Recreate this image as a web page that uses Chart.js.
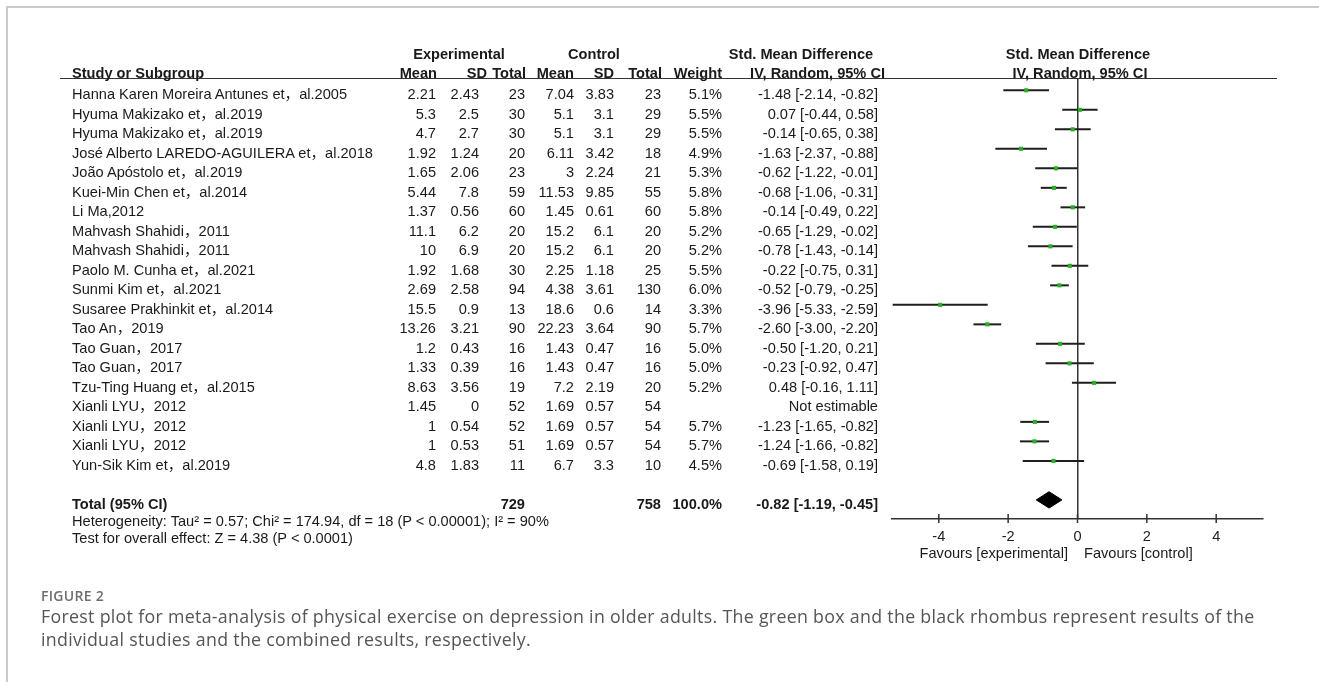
<!DOCTYPE html>
<html>
<head>
<meta charset="utf-8">
<script src="https://cdn.jsdelivr.net/npm/chart.js@4.4.1/dist/chart.umd.min.js"></script>
<style>
body { margin: 0; background: #fff; }
#wrap { position: relative; width: 1319px; height: 682px; overflow: hidden; font-family: "Liberation Sans", Arial, "Noto Sans CJK SC", sans-serif; color: #1a1a1a; }
#frame { position: absolute; left: 6px; top: 6px; width: 1400px; height: 674px; border-top: 2px solid #cbcbcb; border-left: 2px solid #cbcbcb; }
#forest { position: absolute; left: 0; top: 0; }
.t { position: absolute; font-size: 14.6px; line-height: 18px; white-space: nowrap; }
.b { font-weight: bold; }
#hline { position: absolute; left: 60px; width: 1217px; top: 78px; height: 0; border-top: 1.5px solid #333; }
#figno { position: absolute; left: 41px; top: 586px; font-family: "Open Sans", sans-serif; font-weight: 600; font-size: 14px; color: #6e6e6e; letter-spacing: 0.3px; }
#caption { position: absolute; left: 41px; top: 605px; font-family: "Open Sans", sans-serif; font-size: 17.8px; line-height: 23px; letter-spacing: 0.3px; color: #555; white-space: nowrap; }
</style>
</head>
<body>
<div id="wrap">
  <div id="frame"></div>
  <canvas id="forest" width="1319" height="682"></canvas>
  <div id="hline"></div>
  <div id="figno">FIGURE 2</div>
  <div id="caption">Forest plot for meta-analysis of physical exercise on depression in older adults. The green box and the black rhombus represent results of the<br>individual studies and the combined results, respectively.</div>
</div>
<script>
// studies, top to bottom
const studies = [
    'Hanna Karen Moreira Antunes et，al.2005',
    'Hyuma Makizako et，al.2019',
    'Hyuma Makizako et，al.2019',
    'José Alberto LAREDO-AGUILERA et，al.2018',
    'João Apóstolo et，al.2019',
    'Kuei-Min Chen et，al.2014',
    'Li Ma,2012',
    'Mahvash Shahidi，2011',
    'Mahvash Shahidi，2011',
    'Paolo M. Cunha et，al.2021',
    'Sunmi Kim et，al.2021',
    'Susaree Prakhinkit et，al.2014',
    'Tao An，2019',
    'Tao Guan，2017',
    'Tao Guan，2017',
    'Tzu-Ting Huang et，al.2015',
    'Xianli LYU，2012',
    'Xianli LYU，2012',
    'Xianli LYU，2012',
    'Yun-Sik Kim et，al.2019'
];
const expMean = [2.21, 5.3, 4.7, 1.92, 1.65, 5.44, 1.37, 11.1, 10, 1.92, 2.69, 15.5, 13.26, 1.2, 1.33, 8.63, 1.45, 1, 1, 4.8];
const expSD   = [2.43, 2.5, 2.7, 1.24, 2.06, 7.8, 0.56, 6.2, 6.9, 1.68, 2.58, 0.9, 3.21, 0.43, 0.39, 3.56, 0, 0.54, 0.53, 1.83];
const expN    = [23, 30, 30, 20, 23, 59, 60, 20, 20, 30, 94, 13, 90, 16, 16, 19, 52, 52, 51, 11];
const ctlMean = [7.04, 5.1, 5.1, 6.11, 3, 11.53, 1.45, 15.2, 15.2, 2.25, 4.38, 18.6, 22.23, 1.43, 1.43, 7.2, 1.69, 1.69, 1.69, 6.7];
const ctlSD   = [3.83, 3.1, 3.1, 3.42, 2.24, 9.85, 0.61, 6.1, 6.1, 1.18, 3.61, 0.6, 3.64, 0.47, 0.47, 2.19, 0.57, 0.57, 0.57, 3.3];
const ctlN    = [23, 29, 29, 18, 21, 55, 60, 20, 20, 25, 130, 14, 90, 16, 16, 20, 54, 54, 54, 10];
const weight  = [5.1, 5.5, 5.5, 4.9, 5.3, 5.8, 5.8, 5.2, 5.2, 5.5, 6.0, 3.3, 5.7, 5.0, 5.0, 5.2, null, 5.7, 5.7, 4.5];
const smd     = [-1.48, 0.07, -0.14, -1.63, -0.62, -0.68, -0.14, -0.65, -0.78, -0.22, -0.52, -3.96, -2.60, -0.50, -0.23, 0.48, null, -1.23, -1.24, -0.69];
const ciLow   = [-2.14, -0.44, -0.65, -2.37, -1.22, -1.06, -0.49, -1.29, -1.43, -0.75, -0.79, -5.33, -3.00, -1.20, -0.92, -0.16, null, -1.65, -1.66, -1.58];
const ciHigh  = [-0.82, 0.58, 0.38, -0.88, -0.01, -0.31, 0.22, -0.02, -0.14, 0.31, -0.25, -2.59, -2.20, 0.21, 0.47, 1.11, null, -0.82, -0.82, 0.19];

// pooled result
const totalExpN = 729;
const totalCtlN = 758;
const totalWeight = 100.0;
const totalSmd = -0.82;
const totalLow = -1.19;
const totalHigh = -0.45;

const tickValues = [-4, -2, 0, 2, 4];

const totalRow = studies.length + 1;
const DIAMOND_HALF = 0.42;
const TEXT_SHIFT = 4;

var datasets = [];

// green boxes
var boxes = [];
smd.forEach(function(v, i) {
    if (v !== null) boxes.push({x: v, y: i});
});
datasets.push({
    type: 'scatter',
    data: boxes,
    pointStyle: 'rect',
    pointRadius: 2.9,
    backgroundColor: '#1fb51f',
    borderWidth: 0,
    order: 0
});

// confidence intervals
smd.forEach(function(v, i) {
    if (v === null) return;
    datasets.push({
        type: 'line',
        data: [{x: ciLow[i], y: i}, {x: ciHigh[i], y: i}],
        borderColor: '#1e1e1e',
        borderWidth: 2,
        pointRadius: 0,
        fill: false,
        order: 1
    });
});

// pooled diamond
datasets.push({
    type: 'line',
    data: [
        {x: totalLow, y: totalRow},
        {x: totalSmd, y: totalRow - DIAMOND_HALF},
        {x: totalHigh, y: totalRow},
        {x: totalSmd, y: totalRow + DIAMOND_HALF},
        {x: totalLow, y: totalRow}
    ],
    borderColor: '#000',
    borderWidth: 1,
    backgroundColor: '#000',
    pointRadius: 0,
    fill: 'shape',
    order: 0
});

const tickMarks = {
    id: 'tickMarks',
    afterDraw: function(chart) {
        var ctx = chart.ctx, xs = chart.scales.x, yb = chart.chartArea.bottom;
        ctx.save();
        ctx.strokeStyle = '#333';
        ctx.lineWidth = 1.5;
        tickValues.forEach(function(v) {
            var px = xs.getPixelForValue(v);
            ctx.beginPath();
            ctx.moveTo(px, yb - 5);
            ctx.lineTo(px, yb + 4);
            ctx.stroke();
        });
        ctx.restore();
    }
};

var chart = new Chart(document.getElementById('forest').getContext('2d'), {
    type: 'scatter',
    data: {datasets: datasets},
    options: {
        responsive: false,
        animation: false,
        layout: {padding: {left: 892, right: 56, top: 79, bottom: 123}},
        plugins: {legend: {display: false}, tooltip: {enabled: false}},
        scales: {
            x: {
                type: 'linear',
                min: -5.35,
                max: 5.35,
                afterBuildTicks: function(ax) { ax.ticks = tickValues.map(function(v) { return {value: v}; }); },
                afterFit: function(ax) { ax.height = 40; },
                grid: {
                    drawTicks: false,
                    lineWidth: 1.5,
                    color: function(c) { return c.tick && c.tick.value === 0 ? '#333' : 'rgba(0,0,0,0)'; }
                },
                border: {display: true, color: '#333', width: 1.5},
                ticks: {padding: 9, color: '#222', font: {family: 'Liberation Sans', size: 14.6}}
            },
            y: {type: 'linear', display: false, reverse: true, min: -0.58, max: 21.98}
        }
    },
    plugins: [tickMarks]
});

// table text, rows placed through the chart's y scale
var wrap = document.getElementById('wrap');
function put(text, x, yc, align, bold) {
    var d = document.createElement('div');
    d.className = 't' + (bold ? ' b' : '');
    d.textContent = text;
    d.style.top = (yc - 9) + 'px';
    if (align === 'right') {
        d.style.left = (x - 300) + 'px';
        d.style.width = '300px';
        d.style.textAlign = 'right';
    } else if (align === 'center') {
        d.style.left = (x - 150) + 'px';
        d.style.width = '300px';
        d.style.textAlign = 'center';
    } else {
        d.style.left = x + 'px';
    }
    wrap.appendChild(d);
}

const colRight = [436, 479, 525, 574, 614, 661, 722, 878];
var ys = chart.scales.y;

// headers
put('Experimental', 459, 54, 'center', true);
put('Control', 594, 54, 'center', true);
put('Std. Mean Difference', 801, 54, 'center', true);
put('Std. Mean Difference', 1078, 54, 'center', true);
put('Study or Subgroup', 72, 73, 'left', true);
['Mean', 'SD', 'Total', 'Mean', 'SD', 'Total', 'Weight', 'IV, Random, 95% CI'].forEach(function(h, k) {
    var r = [437, 487, 526, 574, 614, 662, 722, 885][k];
    put(h, r, 73, 'right', true);
});
put('IV, Random, 95% CI', 1080, 73, 'center', true);

studies.forEach(function(name, i) {
    var yc = ys.getPixelForValue(i) + TEXT_SHIFT;
    put(name, 72, yc, 'left', false);
    var cells = [String(expMean[i]), String(expSD[i]), String(expN[i]),
                 String(ctlMean[i]), String(ctlSD[i]), String(ctlN[i]),
                 weight[i] === null ? '' : weight[i].toFixed(1) + '%',
                 smd[i] === null ? 'Not estimable' :
                     smd[i].toFixed(2) + ' [' + ciLow[i].toFixed(2) + ', ' + ciHigh[i].toFixed(2) + ']'];
    cells.forEach(function(c, k) { if (c) put(c, colRight[k], yc, 'right', false); });
});

var yt = ys.getPixelForValue(totalRow) + TEXT_SHIFT;
put('Total (95% CI)', 72, yt, 'left', true);
put(String(totalExpN), colRight[2], yt, 'right', true);
put(String(totalCtlN), colRight[5], yt, 'right', true);
put(totalWeight.toFixed(1) + '%', colRight[6], yt, 'right', true);
put(totalSmd.toFixed(2) + ' [' + totalLow.toFixed(2) + ', ' + totalHigh.toFixed(2) + ']', colRight[7], yt, 'right', true);
put('Heterogeneity: Tau² = 0.57; Chi² = 174.94, df = 18 (P < 0.00001); I² = 90%', 72, yt + 17, 'left', false);
put('Test for overall effect: Z = 4.38 (P < 0.0001)', 72, yt + 34, 'left', false);

put('Favours [experimental]', 1068, 553, 'right', false);
put('Favours [control]', 1084, 553, 'left', false);
</script>
</body>
</html>
